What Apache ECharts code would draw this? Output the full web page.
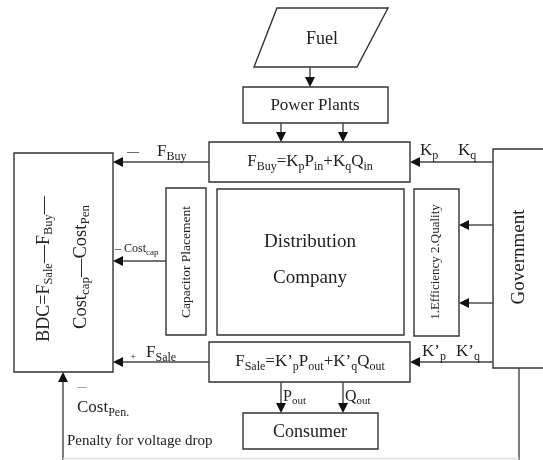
<!DOCTYPE html>
<html>
<head>
<meta charset="utf-8">
<script src="https://cdn.jsdelivr.net/npm/echarts@6/dist/echarts.min.js"></script>
<style>
  html, body { margin: 0; padding: 0; background: #fff; }
  #main { width: 543px; height: 460px; }
</style>
</head>
<body>
<div id="main"></div>
<script>
// 图中的文字
var boxNames = ['Fuel', 'Power Plants', 'Distribution', 'Company', 'Consumer', 'Government'];
var sideNames = ['Capacitor Placement', '1.Efficiency 2.Quality'];
var buyFormula = '{m|F}{s|Buy}{m|=K}{s|p}{m|P}{s|in}{m|+K}{s|q}{m|Q}{s|in}';
var saleFormula = '{m|F}{s|Sale}{m|=K\u2019}{s|p}{m|P}{s|out}{m|+K\u2019}{s|q}{m|Q}{s|out}';
var bdcLines = [
  '{m|BDC=F}{s|Sale}{m|\u2014F}{s|Buy}{m|\u2014}',
  '{m|Cost}{s|cap}{m|\u2014Cost}{s|Pen}'
];
var penaltyText = 'Penalty for voltage drop';

var FONT = '"Liberation Serif", "DejaVu Serif", serif';
var INK = '#222';

function rich(size, sub) {
  return {
    m: { fontSize: size, fontFamily: FONT, fill: INK, lineHeight: size + 4, verticalAlign: 'middle' },
    s: { fontSize: sub, fontFamily: FONT, fill: INK, lineHeight: sub, verticalAlign: 'bottom' }
  };
}

function box(x, y, w, h) {
  return { type: 'rect', shape: { x: x, y: y, width: w, height: h },
    style: { fill: 'none', stroke: '#333', lineWidth: 1.4 } };
}
function line(pts, color) {
  return { type: 'polyline', shape: { points: pts },
    style: { fill: 'none', stroke: color || '#444', lineWidth: 1.4 } };
}
// 带箭头的线
function arrow(x1, y1, x2, y2) {
  var dx = x2 - x1, dy = y2 - y1, len = Math.sqrt(dx * dx + dy * dy);
  var ux = dx / len, uy = dy / len, L = 10, W = 5;
  var bx = x2 - ux * L, by = y2 - uy * L;
  return [
    line([[x1, y1], [bx, by]]),
    { type: 'polygon', shape: { points: [[x2, y2], [bx - uy * W, by + ux * W], [bx + uy * W, by - ux * W]] },
      style: { fill: '#111' } }
  ];
}
function text(x, y, str, size, opt) {
  opt = opt || {};
  return { type: 'text', x: x, y: y, rotation: opt.rot || 0,
    style: { text: str, fontSize: size, fontFamily: FONT, fill: INK,
      align: opt.align || 'center', verticalAlign: opt.va || 'middle',
      rich: opt.rich } };
}

var els = [];
function add(a) { els = els.concat(a); }

// 方框
add({ type: 'polygon', shape: { points: [[277, 8], [388, 8], [357, 67], [254, 67]] },
  style: { fill: 'none', stroke: '#333', lineWidth: 1.4 } });
add(box(243, 87, 145, 36));
add(box(209, 142, 201, 40));
add(box(493, 149, 60, 219));
add(box(14, 153, 99, 219));
add(box(166, 188, 40, 147));
add(box(217, 189, 187, 146));
add(box(414, 189, 45, 147));
add(box(209, 342, 201, 40));
add(box(243, 413, 135, 36));

// 箭头
add(arrow(310, 67, 310, 87));
add(arrow(281, 123, 281, 142));
add(arrow(343, 123, 343, 142));
add(arrow(493, 162, 410, 162));
add(arrow(209, 162, 113, 162));
add(arrow(166, 261, 113, 261));
add(arrow(493, 225, 459, 225));
add(arrow(493, 303, 459, 303));
add(arrow(493, 362, 410, 362));
add(arrow(209, 362, 113, 362));
add(arrow(281, 382, 281, 413));
add(arrow(343, 382, 343, 413));
add(arrow(63, 460, 63, 372));
add(line([[519, 368], [519, 460]]));
add(line([[63, 458.5], [519, 458.5]], '#ddd'));

// 文字
add(text(322, 39, boxNames[0], 18));
add(text(315, 106, boxNames[1], 17));
add(text(310, 242, boxNames[2], 19));
add(text(310, 278, boxNames[3], 19));
add(text(310, 432, boxNames[4], 18));
add(text(519, 257, boxNames[5], 19, { rot: Math.PI / 2 }));
add(text(186, 262, sideNames[0], 13.5, { rot: Math.PI / 2 }));
add(text(436, 262, sideNames[1], 13, { rot: Math.PI / 2 }));

add(text(310, 162, buyFormula, 0, { rich: rich(17, 12) }));
add(text(310, 362, saleFormula, 0, { rich: rich(17, 12) }));
add(text(44, 269, bdcLines[0], 0, { rot: Math.PI / 2, rich: rich(18, 12.5) }));
add(text(81, 267, bdcLines[1], 0, { rot: Math.PI / 2, rich: rich(18.5, 13) }));

add(text(133, 152, '\u2014', 12));
add(text(157, 152, '{m|F}{s|Buy}', 0, { align: 'left', rich: rich(17, 12) }));
add(text(420, 151, '{m|K}{s|p}', 0, { align: 'left', rich: rich(17, 12) }));
add(text(458, 151, '{m|K}{s|q}', 0, { align: 'left', rich: rich(17, 12) }));
add(text(115, 249, '{m|\u2013 Cost}{s|cap}', 0, { align: 'left', rich: rich(12, 9) }));
add(text(133, 357, '+', 10));
add(text(146, 353, '{m|F}{s|Sale}', 0, { align: 'left', rich: rich(17, 12) }));
add(text(422, 352, '{m|K\u2019}{s|p}', 0, { align: 'left', rich: rich(17, 12) }));
add(text(456, 352, '{m|K\u2019}{s|q}', 0, { align: 'left', rich: rich(17, 12) }));
add(text(283, 397, '{m|P}{s|out}', 0, { align: 'left', rich: rich(16, 11) }));
add(text(345, 397, '{m|Q}{s|out}', 0, { align: 'left', rich: rich(16, 11) }));
add(text(82, 387, '\u2014', 9));
add(text(77, 408, '{m|Cost}{s|Pen.}', 0, { align: 'left', rich: rich(17, 12) }));
add(text(67, 441, penaltyText, 15, { align: 'left' }));

var myChart = echarts.init(document.getElementById('main'));
myChart.setOption({
  backgroundColor: '#fff',
  animation: false,
  graphic: { elements: els }
});
</script>
</body>
</html>
